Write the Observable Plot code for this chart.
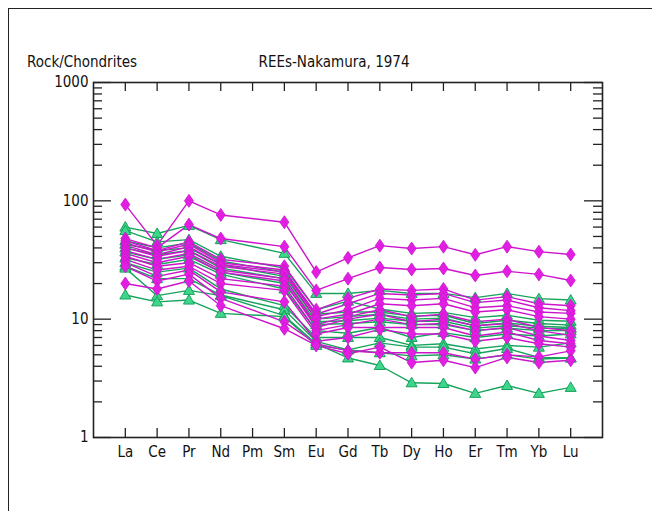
<!DOCTYPE html>
<html>
<head>
<meta charset="utf-8">
<script src="https://cdn.jsdelivr.net/npm/d3@7"></script>
<script src="https://cdn.jsdelivr.net/npm/@observablehq/plot@0.6"></script>
<style>
  html, body { margin: 0; padding: 0; background: #fff; }
  #wrap { position: relative; width: 652px; height: 511px; overflow: hidden;
          font-family: "Liberation Sans Narrow", "Arial Narrow", "DejaVu Sans Condensed", sans-serif; }
  #frame { position: absolute; left: 8px; top: 8px; width: 700px; height: 600px;
           border-top: 1.5px solid #222; border-left: 1.5px solid #222; }
  .t { position: absolute; font-size: 15px; color: #111; white-space: nowrap; line-height: 1; }
  svg { position: absolute; left: 0; top: 0; }
</style>
</head>
<body>
<div id="wrap">
  <div id="frame"></div>
  <div class="t" id="ylab" style="left:27px; top:55px;">Rock/Chondrites</div>
  <div class="t" id="title" style="left:334px; top:55px; transform: translateX(-50%);">REEs-Nakamura, 1974</div>
</div>
<script>
const elements = ["La","Ce","Pr","Nd","Pm","Sm","Eu","Gd","Tb","Dy","Ho","Er","Tm","Yb","Lu"];

// magenta (diamond) samples: La, Ce, Pr, Nd, Pm, Sm, Eu, Gd, Tb, Dy, Ho, Er, Tm, Yb, Lu
const magentaSeries = [
  [93, 42, 100, 76, null, 66, 25, 33, 41.8, 39.5, 41, 35, 41, 37.2, 35.2],
  [48, 40, 63, 48, null, 41, 17.5, 22, 27.3, 26.3, 26.8, 23.4, 25.4, 23.9, 21.2],
  [46, 38, 45, 32, null, 28, 12, 15, 18, 17.5, 18, 14.5, 15.5, 13.5, 13],
  [44, 37, 43, 30, null, 26, 11, 13.5, 16.5, 16, 16.5, 13.8, 14.5, 12.5, 11.8],
  [42, 35, 41, 29, null, 25, 10.5, 12, 15, 14.5, 15, 12.5, 13, 11.5, 11.2],
  [40, 34, 38, 28, null, 24, 10, 11, 13.5, 13, 13.5, 11.5, 12, 10.5, 10],
  [38, 32, 36, 26, null, 22, 9, 10.5, 12, 10.5, 11, 9.5, 10, 8.5, 8],
  [36, 30, 34, 25, null, 21, 8.5, 10, 11, 9.5, 10, 8.8, 9.2, 8, 7.3],
  [34, 28, 30, 22, null, 19, 8, 9, 10, 9, 9.2, 8, 8.5, 7.2, 6.6],
  [32, 26, 28, 20, null, 17.5, 7.5, 8.5, 8.5, 8.5, 8.5, 7.2, 7.8, 6.6, 6.2],
  [30, 23, 26, 17, null, 14, 6.5, 7, 8.2, 7.5, 7.5, 6.5, 7, 6.2, 5.8],
  [28, 21, 24, 15, null, 9.5, 6.2, 5.4, 5.2, 5.2, 5.2, 4.6, 5, 4.8, 5.4],
  [20, 18, 21, 13, null, 8.3, 6, 5.1, 5.8, 4.3, 4.5, 3.9, 4.75, 4.3, 4.5]
];

// green (triangle) samples
const greenSeries = [
  [60, 53, 62, 47, null, 36, 16.5, 16.5, 17.5, 16.5, 16.5, 15.2, 16.5, 14.9, 14.5],
  [56, 45, 47, 34, null, 27, 12, 14.2, 12.2, 11.2, 11.4, 10.3, 10.8, 9.8, 9.6],
  [46, 40, 44, 31, null, 25, 11, 11.5, 11.5, 10.6, 10.8, 9.2, 9.8, 9.2, 8.9],
  [43, 38, 40, 29, null, 23, 10, 10.5, 11, 10, 10.2, 8.8, 9.3, 8.7, 8.5],
  [40, 35, 38, 27, null, 22, 9.5, 9.7, 10.2, 9.6, 9.6, 8.4, 8.8, 8.4, 8.3],
  [37, 32, 35, 25, null, 20, 9, 9.2, 9.5, 9.0, 9.0, 8.0, 8.4, 8.0, 8.0],
  [33, 29, 32, 24, null, 18, 8, 7.6, 8.5, 7.0, 7.7, 7.0, 7.5, 7.2, 7.5],
  [30, 25, 27, 18, null, 13, 7, 7.0, 7.0, 6.0, 6.2, 5.6, 6.0, 5.8, 6.3],
  [28, 22, 22, 16, null, 12, 6.5, 5.5, 6.3, 5.8, 5.8, 5.1, 5.65, 4.75, 4.7],
  [27, 15.8, 17.5, 15.8, null, 10.7, 6.2, 4.7, 4.06, 2.9, 2.86, 2.36, 2.75, 2.36, 2.65],
  [16, 14, 14.5, 11.2, null, 10.5, 6, 5.5, 5.2, 4.9, 5, 4.6, 5, 4.6, 4.7]
];

const yLabelTicks = [1, 10, 100, 1000];
const yMinorTicks = [2,3,4,5,6,7,8,9,20,30,40,50,60,70,80,90,200,300,400,500,600,700,800,900];

const rows = [];
greenSeries.forEach((s, i) => s.forEach((v, j) => { if (v != null) rows.push({group: "green", id: "g" + i, x: j + 1, v}); }));
magentaSeries.forEach((s, i) => s.forEach((v, j) => { if (v != null) rows.push({group: "magenta", id: "m" + i, x: j + 1, v}); }));
const greenRows = rows.filter(d => d.group === "green");
const magentaRows = rows.filter(d => d.group === "magenta");
const xTicks = elements.map((e, i) => i + 1);

const W = 652, H = 511, mL = 93, mR = 50, mT = 82, mB = 74;
const pw = W - mL - mR, ph = H - mT - mB;

const diamond = { draw(ctx) { ctx.moveTo(0, -6.5); ctx.lineTo(4.5, 0); ctx.lineTo(0, 6.5); ctx.lineTo(-4.5, 0); ctx.closePath(); } };
const triangle = { draw(ctx) { ctx.moveTo(0, -5.5); ctx.lineTo(5.5, 4); ctx.lineTo(-5.5, 4); ctx.closePath(); } };

const magLine = "#cc14cc", magFill = "#e21ee2";
const grnLine = "#16a35c", grnFill = "#3fd58a";

const chart = Plot.plot({
  width: W, height: H,
  marginLeft: mL, marginRight: mR, marginTop: mT, marginBottom: mB,
  style: { fontFamily: "'Liberation Sans Narrow', 'Arial Narrow', 'DejaVu Sans Condensed', sans-serif", fontSize: "15px", background: "transparent" },
  x: { domain: [0, 16], axis: null },
  y: { type: "log", domain: [1, 1000], axis: null },
  marks: [
    Plot.lineY(greenRows, { x: "x", y: "v", z: "id", stroke: grnLine, strokeWidth: 1.4 }),
    Plot.lineY(magentaRows, { x: "x", y: "v", z: "id", stroke: magLine, strokeWidth: 1.4 }),
    Plot.dot(greenRows, { x: "x", y: "v", symbol: triangle, r: 5, fill: grnFill, stroke: grnLine, strokeWidth: 1 }),
    Plot.dot(magentaRows, { x: "x", y: "v", symbol: diamond, r: 5, fill: magFill, stroke: magLine, strokeWidth: 0.8 }),
    // inward ticks
    Plot.tickX(xTicks, { x: d => d, insetTop: ph - 9, stroke: "#222", strokeWidth: 1.3 }),
    Plot.tickX(xTicks, { x: d => d, insetBottom: ph - 9, stroke: "#222", strokeWidth: 1.3 }),
    Plot.tickY(yLabelTicks, { y: d => d, insetRight: pw - 18, stroke: "#222", strokeWidth: 1.3 }),
    Plot.tickY(yLabelTicks, { y: d => d, insetLeft: pw - 18, stroke: "#222", strokeWidth: 1.3 }),
    Plot.tickY(yMinorTicks, { y: d => d, insetRight: pw - 9, stroke: "#222", strokeWidth: 1.3 }),
    Plot.tickY(yMinorTicks, { y: d => d, insetLeft: pw - 9, stroke: "#222", strokeWidth: 1.3 }),
    Plot.frame({ stroke: "#222", strokeWidth: 1.6 }),
    Plot.axisX({ ticks: xTicks, tickFormat: d => elements[d - 1], tickSize: 0, tickPadding: 9, fill: "#111", fontSize: 15, label: null }),
    Plot.axisY({ ticks: yLabelTicks, tickFormat: d => String(d), tickSize: 0, tickPadding: 5, fill: "#111", fontSize: 15, label: null })
  ]
});
document.getElementById("wrap").appendChild(chart);
</script>
</body>
</html>
